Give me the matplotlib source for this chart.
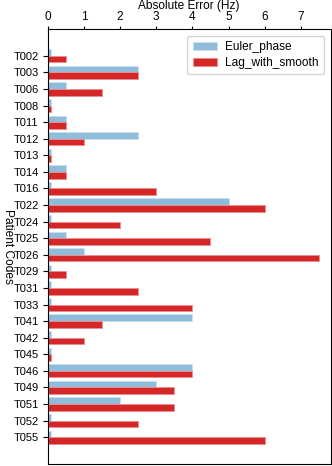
import numpy as np
import matplotlib
matplotlib.use('Agg')
import matplotlib.pyplot as plt

plt.rcParams['font.family'] = ['Liberation Sans', 'DejaVu Sans']

codes = ['T002', 'T003', 'T006', 'T008', 'T011', 'T012', 'T013', 'T014', 'T016',
         'T022', 'T024', 'T025', 'T026', 'T029', 'T031', 'T033', 'T041', 'T042',
         'T045', 'T046', 'T049', 'T051', 'T052', 'T055']
euler_phase = [0.1, 2.5, 0.5, 0.1, 0.5, 2.5, 0.1, 0.5, 0.1,
               5.0, 0.1, 0.5, 1.0, 0.1, 0.1, 0.1, 4.0, 0.1,
               0.1, 4.0, 3.0, 2.0, 0.1, 0.1]
lag_with_smooth = [0.5, 2.5, 1.5, 0.1, 0.5, 1.0, 0.1, 0.5, 3.0,
                   6.0, 2.0, 4.5, 7.5, 0.5, 2.5, 4.0, 1.5, 1.0,
                   0.1, 4.0, 3.5, 3.5, 2.5, 6.0]

fig = plt.figure(figsize=(3.32, 4.66), dpi=100)
ax = fig.add_axes([0.1437, 0.0043, 0.8518, 0.9335])

y = np.arange(len(codes))
h = 0.4
ax.barh(y - h / 2, euler_phase, height=h, color='#8fbcdb', edgecolor='#c9e0ef',
        linewidth=0.6, label='Euler_phase')
ax.barh(y + h / 2, lag_with_smooth, height=h, color='#d62728', edgecolor='#ea8f90',
        linewidth=0.6, label='Lag_with_smooth')

ax.set_yticks(y)
ax.set_yticklabels(codes, fontsize=8)
ax.set_ylim(len(codes) - 1 + 1.62, -1.62)
ax.set_xlim(0, 7.82)
ax.xaxis.tick_top()
ax.xaxis.set_label_position('top')
ax.set_xticks(range(0, 8))
ax.tick_params(axis='x', labelsize=8.5, length=2.5, width=0.8, pad=1.5)
ax.tick_params(axis='y', length=3.5, width=0.8, pad=3)
ax.set_xlabel('Absolute Error (Hz)', fontsize=8.6, labelpad=2)
ax.set_ylabel('Patient Codes', fontsize=8.6, rotation=-90, labelpad=8.5)
for s in ax.spines.values():
    s.set_linewidth(0.8)

ax.legend(loc='upper right', fontsize=8.6, frameon=True, handlelength=2.0,
          handletextpad=0.7, borderpad=0.45, labelspacing=0.35,
          borderaxespad=0.55, fancybox=True, edgecolor='#cccccc')

fig.savefig('out.png', dpi=100)
